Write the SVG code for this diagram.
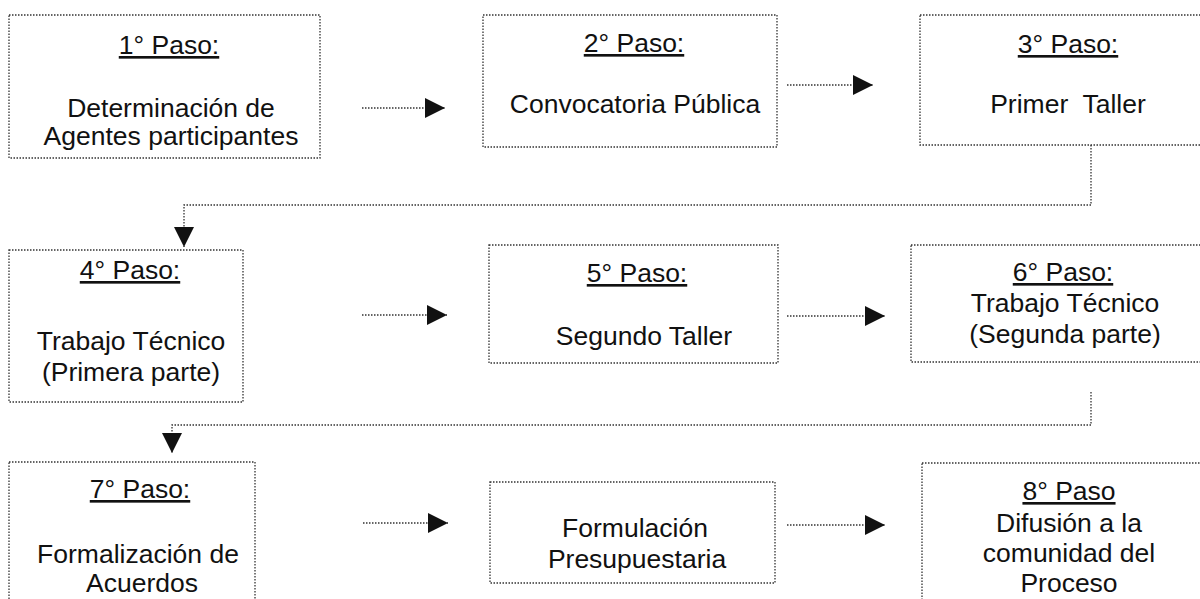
<svg xmlns="http://www.w3.org/2000/svg" width="1200" height="599" viewBox="0 0 1200 599">
<style>
.box{fill:#fff;stroke:#333;stroke-width:1.3;stroke-dasharray:1.5 1.5}
.con{fill:none;stroke:#333;stroke-width:1.3;stroke-dasharray:1.5 1.5}
.t{font-family:"Liberation Sans",Arial,sans-serif;font-size:26.5px;fill:#111;text-anchor:middle}
.h{text-decoration:underline}
</style>
<defs>
<marker id="ar" viewBox="0 0 20 20" refX="20" refY="10" markerWidth="20" markerHeight="20" markerUnits="userSpaceOnUse" orient="auto">
<path d="M0,0 L20,10 L0,20 Z" fill="#111"/>
</marker>
</defs>
<rect width="1200" height="599" fill="#fff"/>
<g id="connectors">
<line class="con" x1="362" y1="108" x2="445" y2="108" marker-end="url(#ar)"/>
<line class="con" x1="787" y1="85" x2="873" y2="85" marker-end="url(#ar)"/>
<path class="con" d="M1091,145 V205 H184 V247" marker-end="url(#ar)"/>
<line class="con" x1="362" y1="315" x2="447" y2="315" marker-end="url(#ar)"/>
<line class="con" x1="787" y1="316" x2="885" y2="316" marker-end="url(#ar)"/>
<path class="con" d="M1091,392 V425 H172 V453" marker-end="url(#ar)"/>
<line class="con" x1="363" y1="523" x2="448" y2="523" marker-end="url(#ar)"/>
<line class="con" x1="787" y1="525" x2="885" y2="525" marker-end="url(#ar)"/>
</g>
<g id="n1">
<rect class="box" x="9" y="15" width="311" height="143"/>
<text class="t h" x="169" y="54">1° Paso:</text>
<text class="t" x="171" y="117">Determinación de</text>
<text class="t" x="171" y="145">Agentes participantes</text>
</g>
<g id="n2">
<rect class="box" x="483" y="15" width="294" height="132"/>
<text class="t h" x="634" y="52">2° Paso:</text>
<text class="t" x="635" y="113">Convocatoria Pública</text>
</g>
<g id="n3">
<rect class="box" x="920" y="15" width="300" height="130"/>
<text class="t h" x="1068" y="53">3° Paso:</text>
<text class="t" x="1068" y="113" xml:space="preserve">Primer  Taller</text>
</g>
<g id="n4">
<rect class="box" x="9" y="250" width="234" height="152"/>
<text class="t h" x="130" y="279">4° Paso:</text>
<text class="t" x="131" y="350">Trabajo Técnico</text>
<text class="t" x="131" y="381">(Primera parte)</text>
</g>
<g id="n5">
<rect class="box" x="489" y="245" width="289" height="118"/>
<text class="t h" x="637" y="282">5° Paso:</text>
<text class="t" x="644" y="345">Segundo Taller</text>
</g>
<g id="n6">
<rect class="box" x="911" y="245" width="310" height="117"/>
<text class="t h" x="1063" y="281">6° Paso:</text>
<text class="t" x="1065" y="312">Trabajo Técnico</text>
<text class="t" x="1065" y="343">(Segunda parte)</text>
</g>
<g id="n7">
<rect class="box" x="9" y="462" width="246" height="145"/>
<text class="t h" x="140" y="498">7° Paso:</text>
<text class="t" x="138" y="563">Formalización de</text>
<text class="t" x="142" y="592">Acuerdos</text>
</g>
<g id="n9">
<rect class="box" x="490" y="482" width="285" height="101"/>
<text class="t" x="635" y="537">Formulación</text>
<text class="t" x="637" y="568">Presupuestaria</text>
</g>
<g id="n8">
<rect class="box" x="922" y="463" width="300" height="145"/>
<text class="t h" x="1069" y="500">8° Paso</text>
<text class="t" x="1069" y="532">Difusión a la</text>
<text class="t" x="1069" y="562">comunidad del</text>
<text class="t" x="1069" y="592">Proceso</text>
</g>
</svg>
